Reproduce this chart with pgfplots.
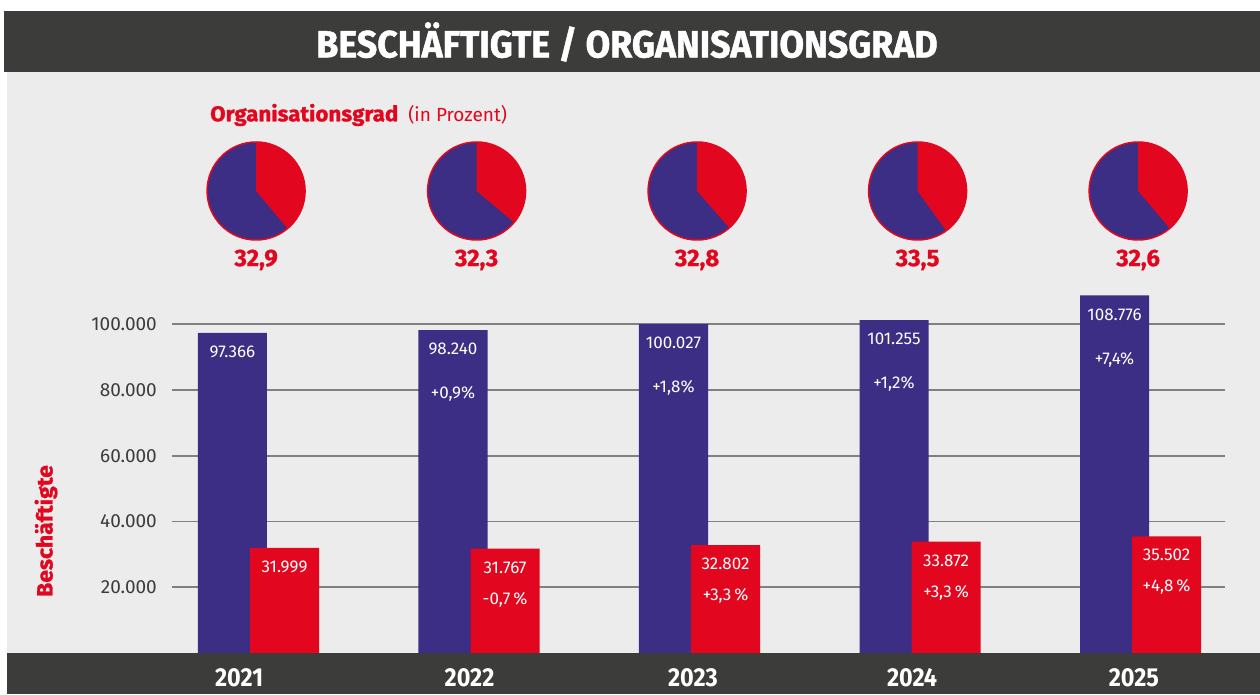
\documentclass[border=0pt]{standalone}
\usepackage{fontspec}
\setmainfont{Fira Sans}
\newfontfamily\firacond[FakeStretch=0.9]{Fira Sans}
\newfontfamily\titlefont[FakeStretch=0.94, BoldFeatures={FakeBold=1.2}]{Fira Sans}
\newfontfamily\heavyfont[FakeStretch=1.04, BoldFeatures={FakeBold=1.2}]{Fira Sans}
\newfontfamily\pielabfont[FakeStretch=1.0, BoldFeatures={FakeBold=0.8}]{Fira Sans}
\usepackage{pgfplots}
\pgfplotsset{compat=1.18}
\usepackage{pgfplotstable}
\definecolor{barblue}{RGB}{59,46,132}
\definecolor{barred}{RGB}{226,6,30}
\definecolor{darkbar}{RGB}{60,60,58}
\definecolor{bggray}{RGB}{236,236,236}
\definecolor{gridgray}{RGB}{128,128,128}
\definecolor{ticktext}{RGB}{60,60,60}

\pgfdeclareplotmark{pie}{%
  \pgfmathsetmacro\pieend{90-3.6*\sweep}%
  \pgfpathcircle{\pgfpointorigin}{49pt}%
  \pgfsetfillcolor{barblue}\pgfusepath{fill}%
  \pgfpathmoveto{\pgfpointorigin}%
  \pgfpathlineto{\pgfpointpolar{90}{49pt}}%
  \pgfpatharc{90}{\pieend}{49pt}%
  \pgfpathclose
  \pgfsetfillcolor{barred}\pgfusepath{fill}%
  \pgfsetstrokecolor{barred}\pgfsetlinewidth{1.5pt}%
  \pgfpathcircle{\pgfpointorigin}{49pt}\pgfusepath{stroke}%
}

% x: group index; blue/red: Beschaeftigte; grad: Organisationsgrad;
% share: red share of pie as drawn (percent); piey/laby: vertical placement
\pgfplotstableread{
x blue red grad share piey laby bluepct redpct
0 97366 31999 32.9 38.9 140532 119544 {} {}
1 98240 31767 32.3 36.1 140532 119544 {+0,9\%} {-0,7\,\%}
2 100027 32802 32.8 38.6 140532 119544 {+1,8\%} {+3,3\,\%}
3 101255 33872 33.5 40.1 140532 119544 {+1,2\%} {+3,3\,\%}
4 108776 35502 32.6 38.8 140532 119544 {+7,4\%} {+4,8\,\%}
}\data

\begin{document}
\begin{tikzpicture}[x=1pt,y=1pt]
\useasboundingbox (0,0) rectangle (1260,694);
\fill[white] (0,0) rectangle (1260,694);
\fill[darkbar] (4,622) rectangle (1260,683);
\fill[bggray] (7,41) rectangle (1260,622);
\fill[darkbar] (7,0) rectangle (1260,41);
\node[text=white, font=\titlefont\bfseries\fontsize{38}{40}\selectfont, inner sep=0pt] at (627,652) {BESCHÄFTIGTE / ORGANISATIONSGRAD};
\node[text=barred, anchor=west, inner sep=0pt] at (210,579) {{\heavyfont\bfseries\fontsize{21.5}{24}\selectfont Organisationsgrad}\hspace{10pt}{\fontsize{19}{22}\selectfont (in Prozent)}};
\node[text=barred, rotate=90, inner sep=0pt, font=\heavyfont\bfseries\fontsize{22}{24}\selectfont] at (46,163) {Beschäftigte};
\begin{axis}[
  at={(172pt,41pt)}, anchor=south west, scale only axis,
  width=1053pt, height=581pt,
  xmin=-0.3923, xmax=4.383, ymin=0, ymax=176730,
  axis line style={draw=none}, tick style={draw=none}, major tick length=0pt,
  ytick={20000,40000,60000,80000,100000},
  yticklabels={20.000,40.000,60.000,80.000,100.000},
  yticklabel style={anchor=east, inner sep=0pt, xshift=-15pt, text=ticktext, font=\fontsize{19}{20}\selectfont},
  ymajorgrids, grid style={gridgray, line width=1.6pt},
  xtick={-0.088,0.957,1.97,2.964,3.97},
  xticklabels={2021,2022,2023,2024,2025},
  xticklabel style={anchor=center, inner sep=0pt, yshift=-25pt, text=white, font=\firacond\bfseries\fontsize{26}{28}\selectfont},
  clip=false,
  /pgf/number format/assume math mode=true,
]
\addplot[ybar, bar width=0.313, bar shift=0pt, fill=barblue, draw=none,
  nodes near coords={\pgfmathprintnumber[fixed,precision=0,1000 sep={.}]{\pgfplotspointmeta}},
  every node near coord/.append style={anchor=center, yshift=-19pt, text=white, font=\fontsize{17}{20}\selectfont}]
  table[x expr=\thisrow{x}-0.118, y=blue]{\data};
\addplot[ybar, bar width=0.313, bar shift=0pt, fill=barred, draw=none,
  nodes near coords={\pgfmathprintnumber[fixed,precision=0,1000 sep={.}]{\pgfplotspointmeta}},
  every node near coord/.append style={anchor=center, yshift=-19pt, text=white, font=\fontsize{17}{20}\selectfont}]
  table[x expr=\thisrow{x}+0.118, y=red]{\data};
\addplot[draw=none, mark=none, nodes near coords, point meta=explicit symbolic,
  every node near coord/.append style={anchor=center, yshift=-64pt, text=white, font=\fontsize{17}{20}\selectfont}]
  table[x expr=\thisrow{x}-0.118, y=blue, meta=bluepct]{\data};
\addplot[draw=none, mark=none, nodes near coords, point meta=explicit symbolic,
  every node near coord/.append style={anchor=center, yshift=-51pt, text=white, font=\fontsize{17}{20}\selectfont}]
  table[x expr=\thisrow{x}+0.118, y=red, meta=redpct]{\data};
\addplot[scatter, only marks, mark=pie, point meta=\thisrow{share},
  visualization depends on={\thisrow{share}\as\sweep}]
  table[x expr=\thisrow{x}-0.011, y=piey]{\data};
\addplot[draw=none, mark=none, point meta=\thisrow{grad},
  nodes near coords={\pgfmathprintnumber[fixed,fixed zerofill,precision=1,use comma]{\pgfplotspointmeta}},
  every node near coord/.append style={anchor=center, text=barred, font=\pielabfont\bfseries\fontsize{24}{26}\selectfont}]
  table[x expr=\thisrow{x}-0.011, y=laby]{\data};
\end{axis}
\end{tikzpicture}
\end{document}
